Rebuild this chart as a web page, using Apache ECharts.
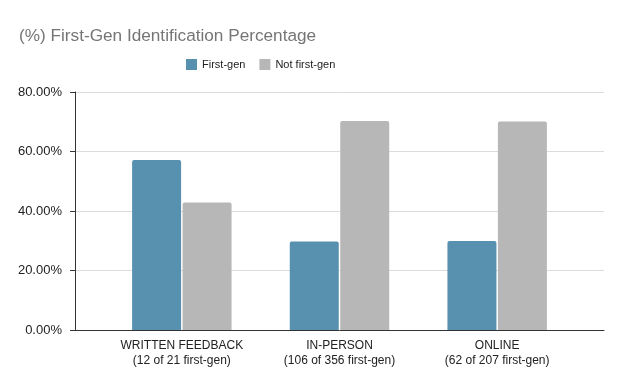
<!DOCTYPE html>
<html>
<head>
<meta charset="utf-8">
<script src="https://cdn.jsdelivr.net/npm/echarts@6/dist/echarts.min.js"></script>
<style>html,body{margin:0;padding:0;background:#fff}#c{width:624px;height:386px}</style>
</head>
<body>
<div id="c"></div>
<script>
const categories = ['WRITTEN FEEDBACK\n(12 of 21 first-gen)', 'IN-PERSON\n(106 of 356 first-gen)', 'ONLINE\n(62 of 207 first-gen)'];
const firstGen = [57.14, 29.78, 29.95];
const notFirstGen = [42.86, 70.22, 70.05];
const seriesNames = ['First-gen', 'Not first-gen'];
const yTicks = [0, 20, 40, 60, 80];

const font = 'Liberation Sans, Arial, sans-serif';
const chart = echarts.init(document.getElementById('c'));
chart.setOption({
  animation: false,
  title: {
    text: '(%) First-Gen Identification Percentage',
    left: 14, top: 23,
    textStyle: {fontFamily: font, fontSize: 17.2, fontWeight: 'normal', color: '#757575'}
  },
  legend: {
    left: 181, top: 54,
    itemWidth: 11, itemHeight: 11, itemGap: 14,
    icon: 'rect',
    textStyle: {fontFamily: font, fontSize: 11, color: '#222'},
    data: seriesNames
  },
  grid: [
    {left: 75, right: 20, top: 92, bottom: 56},
    {left: 103, right: 48, top: 92, bottom: 56}
  ],
  xAxis: [
    {gridIndex: 0, type: 'category', data: ['a'], axisLine: {lineStyle: {color: '#333', width: 1}}, axisTick: {show: false}, axisLabel: {show: false}},
    {gridIndex: 1, type: 'category', data: categories, axisLine: {show: false}, axisTick: {show: false},
     axisLabel: {fontFamily: font, fontSize: 12, color: '#222', lineHeight: 15, margin: 8, interval: 0}}
  ],
  yAxis: [
    {gridIndex: 0, type: 'value', min: yTicks[0], max: yTicks[yTicks.length - 1], interval: 20,
     axisLine: {show: true, lineStyle: {color: '#333'}},
     axisTick: {show: true, length: 5, lineStyle: {color: '#333'}},
     splitLine: {lineStyle: {color: '#dcdcdc'}},
     axisLabel: {fontFamily: font, fontSize: 13, color: '#222', margin: 13, formatter: v => v.toFixed(2) + '%'}},
    {gridIndex: 1, type: 'value', min: 0, max: 80, show: false, splitLine: {show: false}}
  ],
  series: [
    {name: seriesNames[0], type: 'bar', xAxisIndex: 1, yAxisIndex: 1, data: firstGen, barWidth: 49, barGap: '3%',
     itemStyle: {color: '#5891b0', borderRadius: [2, 2, 0, 0]}},
    {name: seriesNames[1], type: 'bar', xAxisIndex: 1, yAxisIndex: 1, data: notFirstGen, barWidth: 49, barGap: '3%',
     itemStyle: {color: '#b7b7b7', borderRadius: [2, 2, 0, 0]}}
  ]
});
</script>
</body>
</html>
